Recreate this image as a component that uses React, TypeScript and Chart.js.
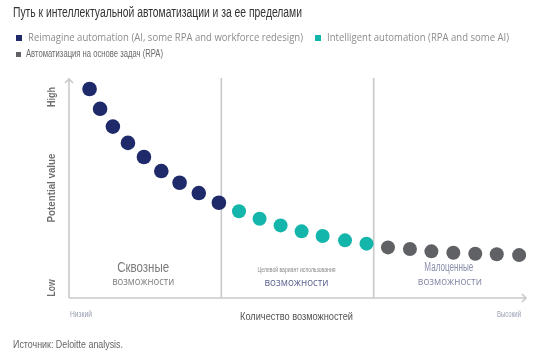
import React, { useEffect, useRef } from "react";
import { Chart, registerables } from "chart.js";

Chart.register(...registerables);

const titleText = "Путь к интеллектуальной автоматизации и за ее пределами";
const seriesNames = [
  "Reimagine automation (AI, some RPA and workforce redesign)",
  "Intelligent automation (RPA and some AI)",
  "Автоматизация на основе задач (RPA)",
];
const seriesColors = ["#1f2a6b", "#14b5aa", "#5f6164"];

const reimagineX = [4.5, 6.8, 9.6, 12.9, 16.4, 20.2, 24.2, 28.4, 32.8];
const reimagineY = [95, 86, 77.9, 70.5, 64.1, 57.7, 52.4, 47.7, 43.3];
const intelligentX = [37.2, 41.7, 46.3, 50.9, 55.5, 60.4, 65.1];
const intelligentY = [39.4, 36, 33, 30.3, 28.2, 26.2, 24.7];
const taskX = [69.8, 74.6, 79.3, 84.1, 88.9, 93.6, 98.5];
const taskY = [23, 22.3, 21.2, 20.6, 20.1, 19.9, 19.5];

const dividers = [33.33, 66.67];
const yLabels = { high: "High", mid: "Potential value", low: "Low" };
const xLabels = { low: "Низкий", mid: "Количество возможностей", high: "Высокий" };
const regionTop = ["Сквозные", "Целевой вариант использования", "Малоценные"];
const regionBottom = ["возможности", "возможности", "возможности"];
const sourceText = "Источник: Deloitte analysis.";

const SANS = '"Liberation Sans", Arial, sans-serif';
const OPEN = '"Open Sans", "Noto Sans", sans-serif';

const pts = (xs: number[], ys: number[]) => xs.map((x, i) => ({ x, y: ys[i] }));

function txt(
  ctx: CanvasRenderingContext2D,
  s: string,
  x: number,
  y: number,
  font: string,
  color: string,
  align: CanvasTextAlign,
  maxW: number
) {
  ctx.font = font;
  ctx.fillStyle = color;
  ctx.textAlign = align;
  ctx.textBaseline = "middle";
  ctx.fillText(s, x, y, maxW);
}

const decorPlugin = {
  id: "decor",
  beforeDatasetsDraw(chart: any) {
    const { ctx, chartArea } = chart;
    const xs = chart.scales.x;
    const { left, right, top, bottom } = chartArea;
    ctx.save();
    ctx.strokeStyle = "#c9c9c9";
    ctx.lineWidth = 1.6;
    ctx.beginPath();
    ctx.moveTo(left, bottom);
    ctx.lineTo(left, top + 1);
    ctx.stroke();
    ctx.beginPath();
    ctx.moveTo(left - 4, top + 5);
    ctx.lineTo(left, top + 1);
    ctx.lineTo(left + 4, top + 5);
    ctx.stroke();
    ctx.beginPath();
    ctx.moveTo(left, bottom);
    ctx.lineTo(right, bottom);
    ctx.stroke();
    ctx.beginPath();
    ctx.moveTo(right - 4, bottom - 4);
    ctx.lineTo(right, bottom);
    ctx.lineTo(right - 4, bottom + 4);
    ctx.stroke();
    dividers.forEach((d) => {
      const px = xs.getPixelForValue(d);
      ctx.beginPath();
      ctx.moveTo(px, top);
      ctx.lineTo(px, bottom);
      ctx.stroke();
    });

    // y labels (rotated)
    const yl = left - 17;
    const rot = (t: string, y: number, w: number) => {
      ctx.save();
      ctx.translate(yl, y);
      ctx.rotate(-Math.PI / 2);
      txt(ctx, t, 0, 0, "bold 11px " + SANS, "#6f6f6f", "center", w);
      ctx.restore();
    };
    rot(yLabels.high, top + 19, 20);
    rot(yLabels.mid, top + 110, 69);
    rot(yLabels.low, bottom - 10, 17);

    // x labels
    txt(ctx, xLabels.low, left + 1, bottom + 17, "9px " + SANS, "#9aa0b0", "left", 22);
    txt(ctx, xLabels.high, right - 5, bottom + 17, "9px " + SANS, "#9aa0b0", "right", 24);
    txt(ctx, xLabels.mid, (left + right) / 2 - 1, bottom + 19, "11px " + SANS, "#555555", "center", 113);

    // region labels
    const centers = [dividers[0] / 2, (dividers[0] + dividers[1]) / 2, (dividers[1] + 100) / 2].map((v) =>
      xs.getPixelForValue(v)
    );
    txt(ctx, regionTop[0], centers[0] - 2, bottom - 30, "14px " + SANS, "#7a7a7a", "center", 52);
    txt(ctx, regionTop[1], centers[1] - 1, bottom - 28, "8px " + SANS, "#8a8a8a", "center", 78);
    txt(ctx, regionTop[2], centers[2] - 1, bottom - 30, "12px " + SANS, "#8a8fac", "center", 49);
    txt(ctx, regionBottom[0], centers[0] - 2, bottom - 16, "11px " + OPEN, "#7d7d7d", "center", 62);
    txt(ctx, regionBottom[1], centers[1] - 1, bottom - 15, "11px " + OPEN, "#5d6392", "center", 64);
    txt(ctx, regionBottom[2], centers[2], bottom - 16, "11px " + OPEN, "#858aa6", "center", 64);
    ctx.restore();
  },
  afterDraw(chart: any) {
    const ctx = chart.ctx as CanvasRenderingContext2D;
    ctx.save();
    txt(ctx, titleText, 13, 13, "14px " + SANS, "#333333", "left", 289);
    ctx.fillStyle = seriesColors[0];
    ctx.fillRect(16, 35, 6, 6);
    txt(ctx, seriesNames[0], 28, 37.5, "11px " + OPEN, "#8c8c8c", "left", 275);
    ctx.fillStyle = seriesColors[1];
    ctx.fillRect(315, 35, 6, 6);
    txt(ctx, seriesNames[1], 327, 37.5, "11px " + OPEN, "#8c8c8c", "left", 182);
    ctx.fillStyle = seriesColors[2];
    ctx.fillRect(16, 52, 5, 5);
    txt(ctx, seriesNames[2], 26, 54.5, "10px " + SANS, "#6a6a6a", "left", 137);
    txt(ctx, sourceText, 13, 345, "11px " + SANS, "#666666", "left", 110);
    ctx.restore();
  },
};

export default function App() {
  const ref = useRef<HTMLCanvasElement | null>(null);

  useEffect(() => {
    if (!ref.current) return;
    const mk = (label: string, data: any[], color: string, r: number) => ({
      label,
      data,
      backgroundColor: color,
      borderColor: color,
      borderWidth: 0,
      pointRadius: r,
      pointHoverRadius: r,
    });
    const chart = new Chart(ref.current, {
      type: "scatter",
      data: {
        datasets: [
          mk(seriesNames[0], pts(reimagineX, reimagineY), seriesColors[0], 7.3),
          mk(seriesNames[1], pts(intelligentX, intelligentY), seriesColors[1], 7),
          mk(seriesNames[2], pts(taskX, taskY), seriesColors[2], 7),
        ],
      },
      options: {
        animation: false,
        responsive: false,
        layout: { padding: { left: 69, right: 23, top: 78, bottom: 55 } },
        plugins: { legend: { display: false }, tooltip: { enabled: false }, title: { display: false } },
        scales: {
          x: { type: "linear", min: 0, max: 100, display: false },
          y: { type: "linear", min: 0, max: 100, display: false },
        },
      },
      plugins: [decorPlugin],
    });
    return () => chart.destroy();
  }, []);

  return (
    <div style={{ position: "absolute", left: 0, top: 0, width: 549, height: 353, background: "#fff", overflow: "hidden" }}>
      <canvas ref={ref} width={549} height={353} style={{ position: "absolute", left: 0, top: 0 }} />
    </div>
  );
}
